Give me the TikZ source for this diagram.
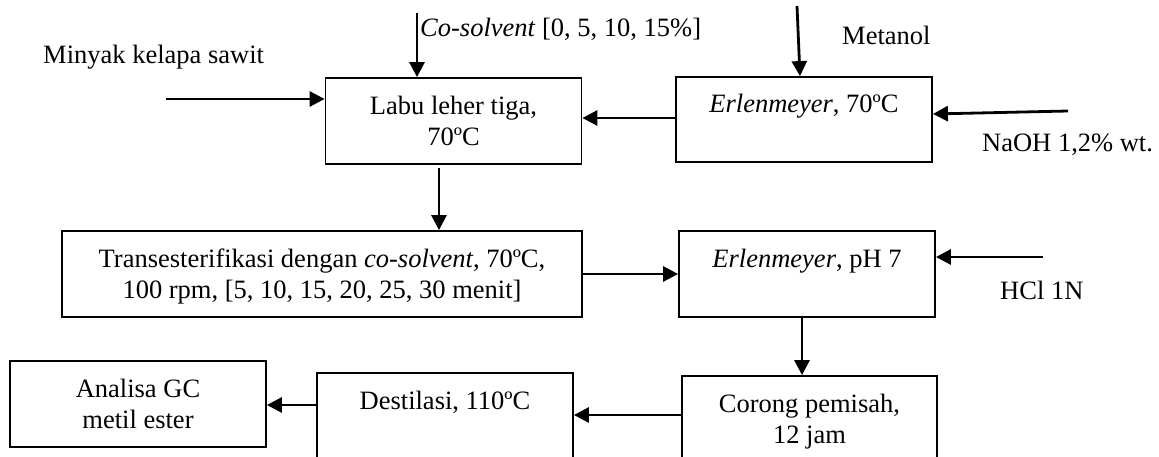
\documentclass[tikz,border=0pt]{standalone}
\usepackage{fontspec}
\setmainfont{Liberation Serif}
\usetikzlibrary{arrows.meta}
\newcommand{\fs}{\fontsize{26.5pt}{31pt}\selectfont}
\newcommand{\lns}{\rule[-6.5pt]{0pt}{31pt}}
\begin{document}
\begin{tikzpicture}[x=1pt,y=-1pt,
  box/.style={draw, line width=1.8pt, inner sep=0pt, align=center, font=\fs,
              minimum width=256pt, minimum height=86pt},
  flow/.style={line width=2.8pt, -{Triangle[length=15pt,width=15pt]}},
  lbl/.style={inner sep=0pt, font=\fs, anchor=base west}]
\clip (0,0) rectangle (1159,457);
% boxes
\node[box] (labu) at (453.5,121) {\lns Labu leher tiga,\\\lns 70ºC};
\node[box, minimum height=85pt] (erl) at (804,119.5) {\lns\textit{Erlenmeyer}, 70ºC\\\lns};
\node[box, minimum width=520pt] (trans) at (322,274) {\lns Transesterifikasi dengan \textit{co-solvent}, 70ºC,\\\lns 100 rpm, [5, 10, 15, 20, 25, 30 menit]};
\node[box] (erlph) at (807,274) {\lns\textit{Erlenmeyer}, pH 7\\\lns};
\node[box] (gc) at (138,404) {\lns Analisa GC\\\lns metil ester};
\node[box] (dest) at (445,416) {\lns Destilasi, 110ºC\\\lns};
\node[box, minimum width=255pt] (cor) at (809.5,419) {\lns Corong pemisah,\\\lns 12 jam};
% labels
\node[lbl] (lcs) at (420,37) {\textit{Co-solvent} [0, 5, 10, 15\%]};
\node[lbl] (lmt) at (842,45) {Metanol};
\node[lbl] (lmk) at (43,64) {Minyak kelapa sawit};
\node[lbl] (lna) at (982,152) {NaOH 1,2\% wt.};
\node[lbl] (lhc) at (1000,299) {HCl 1N};
% free ends
\coordinate (cs) at (417,13);
\coordinate (mt) at (797,6);
\coordinate (mk) at (166,99);
\coordinate (na) at (1068,111);
\coordinate (hc) at (1043,257);
% connectors
\draw[flow] (cs) -- (labu.north -| cs);
\draw[flow] (mt) -- ([xshift=-4pt]erl.north);
\draw[flow] (mk) -- (labu.west |- mk);
\draw[flow] (na) -- ([yshift=5.5pt]erl.east);
\draw[flow] ([yshift=1.5pt]erl.west) -- ([yshift=1.5pt]erl.west -| labu.east);
\draw[flow, shorten <=3pt] ([xshift=-14.5pt]labu.south) -- ([xshift=-14.5pt]labu.south |- trans.north);
\draw[flow] (trans.east) -- (erlph.west);
\draw[flow] (hc) -- (erlph.east |- hc);
\draw[flow] ([xshift=-5pt]erlph.south) -- ([xshift=-5pt]erlph.south |- cor.north);
\draw[flow] ([yshift=4pt]cor.west) -- ([yshift=4pt]cor.west -| dest.east);
\draw[flow] ([yshift=11pt]dest.west) -- ([yshift=11pt]dest.west -| gc.east);
\end{tikzpicture}
\end{document}
